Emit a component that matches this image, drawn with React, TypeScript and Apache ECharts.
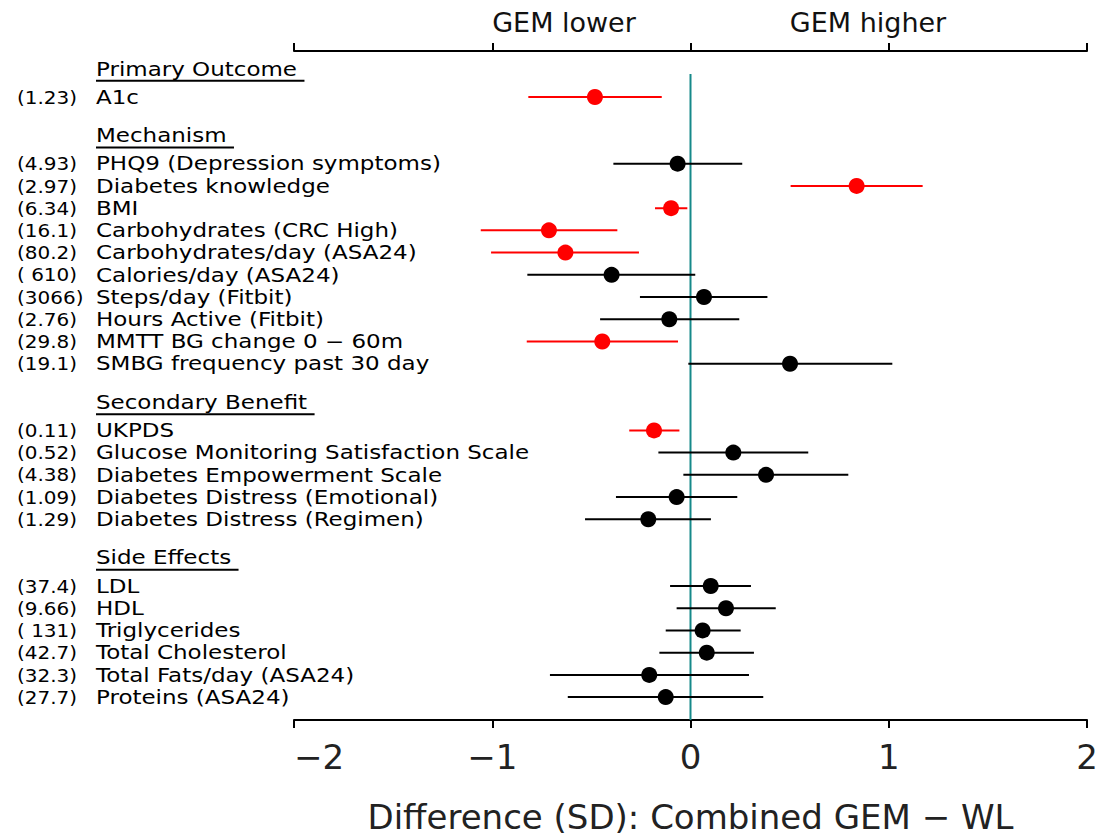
import React, { useEffect, useRef } from "react";
import * as echarts from "echarts";

// ---- data ----
const sdLabels = [
  "(1.23)",
  "(4.93)", "(2.97)", "(6.34)", "(16.1)", "(80.2)", "( 610)", "(3066)", "(2.76)", "(29.8)", "(19.1)",
  "(0.11)", "(0.52)", "(4.38)", "(1.09)", "(1.29)",
  "(37.4)", "(9.66)", "( 131)", "(42.7)", "(32.3)", "(27.7)",
];
const names = [
  "A1c",
  "PHQ9 (Depression symptoms)", "Diabetes knowledge", "BMI", "Carbohydrates (CRC High)",
  "Carbohydrates/day (ASA24)", "Calories/day (ASA24)", "Steps/day (Fitbit)", "Hours Active (Fitbit)",
  "MMTT BG change 0 \u2212 60m", "SMBG frequency past 30 day",
  "UKPDS", "Glucose Monitoring Satisfaction Scale", "Diabetes Empowerment Scale",
  "Diabetes Distress (Emotional)", "Diabetes Distress (Regimen)",
  "LDL", "HDL", "Triglycerides", "Total Cholesterol", "Total Fats/day (ASA24)", "Proteins (ASA24)",
];
const rows = [0, 3, 4, 5, 6, 7, 8, 9, 10, 11, 12, 15, 16, 17, 18, 19, 22, 23, 24, 25, 26, 27];
const estimates = [
  -0.482,
  -0.065, 0.838, -0.098, -0.714, -0.631, -0.398, 0.068, -0.107, -0.445, 0.502,
  -0.184, 0.216, 0.381, -0.070, -0.213,
  0.102, 0.179, 0.061, 0.082, -0.208, -0.125,
];
const lower = [
  -0.818,
  -0.389, 0.505, -0.179, -1.058, -1.006, -0.823, -0.255, -0.456, -0.826, -0.011,
  -0.309, -0.162, -0.036, -0.376, -0.532,
  -0.103, -0.070, -0.125, -0.157, -0.709, -0.619,
];
const upper = [
  -0.145,
  0.261, 1.171, -0.016, -0.369, -0.260, 0.024, 0.388, 0.246, -0.063, 1.018,
  -0.056, 0.594, 0.796, 0.236, 0.103,
  0.305, 0.430, 0.253, 0.320, 0.295, 0.367,
];
const groupHeaders = ["Primary Outcome", "Mechanism", "Secondary Benefit", "Side Effects"];
const groupFirstRows = [0, 3, 15, 22];
const xTicks = [-2, -1, 0, 1, 2];
const topLabels = ["GEM lower", "GEM higher"];
const xTitle = "Difference (SD): Combined GEM \u2212 WL";

const FONT = '"DejaVu Sans", sans-serif';
const NAME_SIZE = 23;
const NAME_SCALE_Y = 0.82;
const SD_SIZE = 20;
const SD_SCALE_Y = 0.9;

function measure(s: string, size: number) {
  const c = document.createElement("canvas").getContext("2d");
  if (!c) return s.length * size * 0.6;
  c.font = `${size}px "DejaVu Sans"`;
  return c.measureText(s).width;
}

export default function App() {
  const ref = useRef<HTMLDivElement>(null);
  useEffect(() => {
    if (!ref.current) return;
    const chart = echarts.init(ref.current, undefined, { renderer: "svg" });

    const sig = (i: number) => lower[i] > 0 || upper[i] < 0;
    const barData = rows.map((r, i) => ({
      value: [r, lower[i], upper[i]],
      itemStyle: { color: sig(i) ? "#ff0000" : "#000000" },
    }));
    const dotData = rows.map((r, i) => ({
      value: [estimates[i], r],
      itemStyle: { color: sig(i) ? "#ff0000" : "#000000", opacity: 1 },
    }));
    const labelData = rows.map((r, i) => ({ value: [0, r], sd: sdLabels[i], name: names[i] }));
    const headerData = groupFirstRows.map((r, i) => ({ value: [0, r - 1.27], name: groupHeaders[i] }));

    const xMin = xTicks[0];
    const xMax = xTicks[xTicks.length - 1];

    chart.setOption({
      animation: false,
      backgroundColor: "#ffffff",
      grid: { left: 294, right: 11, top: 51, bottom: 117, containLabel: false, outerBoundsMode: "none" },
      xAxis: [
        {
          type: "value",
          position: "bottom",
          min: xMin,
          max: xMax,
          interval: 1,
          axisLine: { show: true, onZero: false, lineStyle: { color: "#000", width: 2 } },
          axisTick: { show: true, length: 8, lineStyle: { color: "#000", width: 2 } },
          splitLine: { show: false },
          axisLabel: {
            fontSize: 34,
            fontFamily: FONT,
            color: "#222",
            margin: 20,
            alignMinLabel: "left",
            formatter: (v: number) => String(v).replace("-", "\u2212"),
          },
          name: xTitle,
          nameLocation: "middle",
          nameGap: 80,
          nameTextStyle: { fontSize: 34, fontFamily: FONT, color: "#222" },
        },
        {
          type: "value",
          position: "top",
          min: xMin,
          max: xMax,
          interval: 1,
          axisLine: { show: true, onZero: false, lineStyle: { color: "#000", width: 2 } },
          axisTick: { show: true, length: 8, lineStyle: { color: "#000", width: 2 } },
          splitLine: { show: false },
          axisLabel: { show: false },
        },
      ],
      yAxis: {
        type: "value",
        inverse: true,
        min: -2.07,
        max: 28.03,
        show: false,
        axisLine: { onZero: false },
        splitLine: { show: false },
      },
      graphic: [
        {
          type: "text",
          x: 564,
          y: 22,
          style: { text: topLabels[0], font: `27px ${FONT}`, fill: "#111", align: "center", verticalAlign: "middle" },
        },
        {
          type: "text",
          x: 868,
          y: 22,
          style: { text: topLabels[1], font: `27px ${FONT}`, fill: "#111", align: "center", verticalAlign: "middle" },
        },
      ],
      series: [
        {
          type: "line",
          data: [[0, -1.03], [0, 28.03]],
          symbol: "none",
          lineStyle: { color: "#16898a", width: 2 },
          silent: true,
          z: 1,
        },
        {
          type: "custom",
          clip: false,
          silent: true,
          data: barData,
          encode: { x: [1, 2], y: 0 },
          renderItem: (params: any, api: any) => {
            const r = api.value(0);
            const a = api.coord([api.value(1), r]);
            const b = api.coord([api.value(2), r]);
            return {
              type: "line",
              shape: { x1: a[0], y1: a[1], x2: b[0], y2: b[1] },
              style: { stroke: api.visual("color"), lineWidth: 2 },
            };
          },
          z: 2,
        },
        {
          type: "scatter",
          data: dotData,
          symbol: "circle",
          symbolSize: 16,
          itemStyle: { opacity: 1 },
          silent: true,
          z: 3,
        },
        {
          type: "custom",
          clip: false,
          silent: true,
          data: labelData,
          renderItem: (params: any, api: any) => {
            const d = labelData[params.dataIndex];
            const y = api.coord([0, api.value(1)])[1];
            return {
              type: "group",
              children: [
                {
                  type: "text",
                  x: 17,
                  y: y,
                  scaleY: SD_SCALE_Y,
                  style: { text: d.sd, font: `${SD_SIZE}px ${FONT}`, fill: "#000", align: "left", verticalAlign: "middle" },
                },
                {
                  type: "text",
                  x: 96,
                  y: y,
                  scaleY: NAME_SCALE_Y,
                  style: { text: d.name, font: `${NAME_SIZE}px ${FONT}`, fill: "#000", align: "left", verticalAlign: "middle" },
                },
              ],
            };
          },
        },
        {
          type: "custom",
          clip: false,
          silent: true,
          data: headerData,
          renderItem: (params: any, api: any) => {
            const d = headerData[params.dataIndex];
            const y = api.coord([0, api.value(1)])[1];
            const w = measure(d.name + " ", NAME_SIZE);
            return {
              type: "group",
              children: [
                {
                  type: "text",
                  x: 96,
                  y: y,
                  scaleY: NAME_SCALE_Y,
                  style: { text: d.name, font: `${NAME_SIZE}px ${FONT}`, fill: "#000", align: "left", verticalAlign: "middle" },
                },
                {
                  type: "line",
                  shape: { x1: 96, y1: y + 12, x2: 96 + w, y2: y + 12 },
                  style: { stroke: "#000", lineWidth: 2 },
                },
              ],
            };
          },
        },
      ],
    });
    return () => chart.dispose();
  }, []);
  return <div ref={ref} style={{ position: "fixed", left: 0, top: 0, width: 1098, height: 837 }} />;
}
